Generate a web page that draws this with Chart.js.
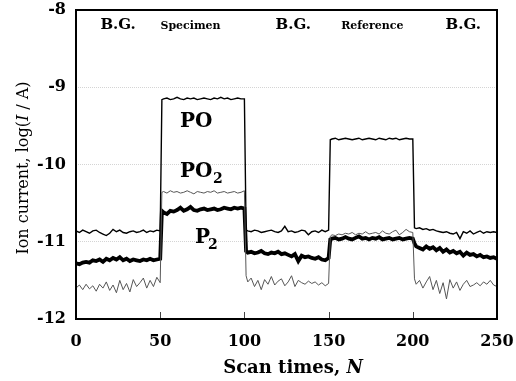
<!DOCTYPE html>
<html>
<head>
<meta charset="utf-8">
<script src="https://cdn.jsdelivr.net/npm/chart.js@4"></script>
<style>
  body { margin: 0; background: #fff; }
  #wrap { width: 516px; height: 381px; }
</style>
</head>
<body>
<div id="wrap"><canvas id="chart"></canvas></div>
<script>
// scan numbers (extra odd points at the step edges)
const scans = [0,2,4,6,8,10,12,14,16,18,20,22,24,26,28,30,32,34,36,38,40,42,44,46,48,50,
  51,52,54,56,58,60,62,64,66,68,70,72,74,76,78,80,82,84,86,88,90,92,94,96,98,100,
  101,102,104,106,108,110,112,114,116,118,120,122,124,126,128,130,132,134,136,138,140,142,144,146,148,150,
  151,152,154,156,158,160,162,164,166,168,170,172,174,176,178,180,182,184,186,188,190,192,194,196,198,200,
  201,202,204,206,208,210,212,214,216,218,220,222,224,226,228,230,232,234,236,238,240,242,244,246,248,250];

const po = [-10.86,-10.88,-10.85,-10.87,-10.89,-10.86,-10.85,-10.88,-10.90,-10.92,-10.89,-10.84,-10.87,-10.85,-10.88,-10.89,-10.87,-10.86,-10.88,-10.87,-10.85,-10.88,-10.86,-10.87,-10.85,-10.86,
  -9.16,-9.15,-9.14,-9.16,-9.15,-9.13,-9.15,-9.16,-9.14,-9.15,-9.14,-9.16,-9.15,-9.14,-9.15,-9.16,-9.14,-9.15,-9.13,-9.15,-9.14,-9.16,-9.15,-9.14,-9.15,-9.15,
  -10.85,-10.86,-10.87,-10.85,-10.86,-10.88,-10.87,-10.86,-10.85,-10.87,-10.88,-10.86,-10.80,-10.87,-10.86,-10.88,-10.87,-10.85,-10.86,-10.91,-10.87,-10.86,-10.88,-10.85,-10.87,-10.85,
  -9.68,-9.67,-9.66,-9.68,-9.67,-9.66,-9.67,-9.68,-9.67,-9.66,-9.68,-9.67,-9.66,-9.67,-9.68,-9.66,-9.67,-9.68,-9.66,-9.67,-9.66,-9.68,-9.67,-9.66,-9.67,-9.67,
  -10.82,-10.83,-10.82,-10.84,-10.83,-10.85,-10.84,-10.86,-10.87,-10.88,-10.87,-10.89,-10.90,-10.88,-10.96,-10.87,-10.89,-10.86,-10.90,-10.88,-10.86,-10.89,-10.87,-10.88,-10.87,-10.88];

const po2 = [-11.60,-11.56,-11.62,-11.55,-11.61,-11.57,-11.64,-11.55,-11.60,-11.52,-11.63,-11.56,-11.66,-11.50,-11.62,-11.54,-11.65,-11.49,-11.58,-11.53,-11.47,-11.60,-11.50,-11.58,-11.46,-11.53,
  -10.36,-10.35,-10.37,-10.34,-10.36,-10.35,-10.37,-10.36,-10.34,-10.36,-10.38,-10.35,-10.36,-10.37,-10.35,-10.36,-10.34,-10.37,-10.36,-10.35,-10.37,-10.36,-10.35,-10.37,-10.36,-10.34,
  -11.44,-11.52,-11.47,-11.58,-11.50,-11.62,-11.49,-11.55,-11.45,-11.56,-11.51,-11.48,-11.57,-11.52,-11.44,-11.58,-11.50,-11.53,-11.55,-11.51,-11.54,-11.52,-11.56,-11.53,-11.57,-11.54,
  -10.93,-10.91,-10.92,-10.90,-10.91,-10.89,-10.90,-10.88,-10.91,-10.89,-10.90,-10.87,-10.90,-10.89,-10.88,-10.90,-10.86,-10.89,-10.90,-10.87,-10.85,-10.91,-10.88,-10.84,-10.87,-10.88,
  -11.48,-11.55,-11.50,-11.60,-11.52,-11.45,-11.62,-11.50,-11.67,-11.53,-11.74,-11.49,-11.60,-11.52,-11.63,-11.55,-11.50,-11.58,-11.56,-11.53,-11.57,-11.52,-11.55,-11.50,-11.56,-11.58];

const p2 = [-11.28,-11.29,-11.27,-11.26,-11.27,-11.24,-11.25,-11.23,-11.26,-11.22,-11.24,-11.21,-11.23,-11.20,-11.24,-11.22,-11.25,-11.23,-11.24,-11.25,-11.23,-11.24,-11.22,-11.24,-11.23,-11.22,
  -10.60,-10.62,-10.64,-10.60,-10.61,-10.59,-10.56,-10.60,-10.58,-10.55,-10.59,-10.60,-10.58,-10.57,-10.59,-10.58,-10.57,-10.59,-10.58,-10.56,-10.57,-10.58,-10.56,-10.57,-10.56,-10.57,
  -11.12,-11.14,-11.13,-11.15,-11.14,-11.12,-11.15,-11.16,-11.14,-11.15,-11.13,-11.16,-11.15,-11.17,-11.19,-11.16,-11.25,-11.18,-11.20,-11.19,-11.21,-11.22,-11.20,-11.23,-11.24,-11.21,
  -10.97,-10.96,-10.95,-10.97,-10.96,-10.94,-10.96,-10.97,-10.95,-10.93,-10.96,-10.95,-10.97,-10.95,-10.96,-10.94,-10.97,-10.96,-10.95,-10.97,-10.96,-10.95,-10.97,-10.96,-10.95,-10.96,
  -11.02,-11.06,-11.08,-11.10,-11.06,-11.09,-11.07,-11.11,-11.08,-11.13,-11.10,-11.14,-11.12,-11.15,-11.13,-11.18,-11.14,-11.17,-11.16,-11.19,-11.17,-11.20,-11.19,-11.21,-11.20,-11.22];

const xTicks = [0, 50, 100, 150, 200, 250];
const regions = [
  {text: 'B.G.', x: 25, size: 15},
  {text: 'Specimen', x: 68, size: 11},
  {text: 'B.G.', x: 129, size: 15},
  {text: 'Reference', x: 176, size: 11},
  {text: 'B.G.', x: 230, size: 15},
];

const SERIF = '"DejaVu Serif", serif';
const pts = ys => ys.map((y, i) => ({x: scans[i], y: y}));

const decor = {
  id: 'decor',
  afterDraw(chart) {
    const ctx = chart.ctx;
    const a = chart.chartArea;
    const xs = chart.scales.x;
    ctx.save();
    // inner tick marks on x axis
    ctx.strokeStyle = '#444';
    ctx.lineWidth = 1;
    [50, 100, 150, 200].forEach(v => {
      const px = Math.round(xs.getPixelForValue(v)) + 0.5;
      ctx.beginPath(); ctx.moveTo(px, a.bottom); ctx.lineTo(px, a.bottom - 7); ctx.stroke();
    });
    // frame
    ctx.strokeStyle = '#000';
    ctx.lineWidth = 2;
    ctx.strokeRect(a.left, a.top, a.right - a.left, a.bottom - a.top);

    ctx.fillStyle = '#000';
    ctx.textBaseline = 'alphabetic';
    // region labels
    ctx.textAlign = 'center';
    regions.forEach(r => {
      ctx.font = 'bold ' + r.size + 'px ' + SERIF;
      ctx.fillText(r.text, xs.getPixelForValue(r.x), 29);
    });
    // series labels
    ctx.textAlign = 'left';
    ctx.font = 'bold 20px ' + SERIF;
    ctx.fillText('PO', 180, 127);
    ctx.fillText('PO', 180, 177);
    ctx.fillText('P', 195, 243);
    ctx.font = 'bold 14px ' + SERIF;
    ctx.fillText('2', 213, 183);
    ctx.fillText('2', 208, 249);

    // x axis title with italic N
    const t1 = 'Scan times, ';
    ctx.font = 'bold 18px ' + SERIF;
    const w1 = ctx.measureText(t1).width;
    ctx.font = 'bold italic 18px ' + SERIF;
    const w2 = ctx.measureText('N').width;
    const sx = 293 - (w1 + w2) / 2;
    ctx.font = 'bold 18px ' + SERIF;
    ctx.fillText(t1, sx, 373);
    ctx.font = 'bold italic 18px ' + SERIF;
    ctx.fillText('N', sx + w1, 373);

    // y axis title, rotated
    ctx.translate(28, 168);
    ctx.rotate(-Math.PI / 2);
    const parts = [['Ion current, log(', ''], ['I', 'italic '], [' / A)', '']];
    let total = 0;
    parts.forEach(p => { ctx.font = p[1] + '16px ' + SERIF; total += ctx.measureText(p[0]).width; });
    let cx = -total / 2;
    parts.forEach(p => {
      ctx.font = p[1] + '16px ' + SERIF;
      ctx.fillText(p[0], cx, 0);
      cx += ctx.measureText(p[0]).width;
    });
    ctx.restore();
  }
};

new Chart(document.getElementById('chart'), {
  type: 'line',
  data: {
    datasets: [
      {label: 'PO2', data: pts(po2), borderColor: '#555', borderWidth: 1},
      {label: 'PO', data: pts(po), borderColor: '#000', borderWidth: 1.4},
      {label: 'P2', data: pts(p2), borderColor: '#000', borderWidth: 3.8},
    ],
  },
  options: {
    responsive: true,
    maintainAspectRatio: false,
    animation: false,
    layout: {padding: {left: 0, right: 19, top: 10, bottom: 0}},
    elements: {point: {radius: 0}, line: {tension: 0}},
    plugins: {legend: {display: false}, tooltip: {enabled: false}},
    scales: {
      x: {
        type: 'linear',
        min: 0, max: 250,
        afterBuildTicks: s => { s.ticks = xTicks.map(v => ({value: v})); },
        afterFit: s => { s.height = 62; s.paddingLeft = 0; s.paddingRight = 0; },
        grid: {display: false, drawTicks: false},
        border: {display: false},
        ticks: {
          color: '#000', padding: 13,
          font: {family: SERIF, size: 16, weight: 'bold'},
          maxRotation: 0,
        },
      },
      y: {
        min: -12, max: -8,
        afterFit: s => { s.width = 76; s.paddingTop = 0; s.paddingBottom = 0; },
        grid: {
          drawTicks: false,
          color: c => (c.tick.value === -8 || c.tick.value === -12) ? 'rgba(0,0,0,0)' : '#d4d4d4',
          lineWidth: 1,
        },
        border: {display: false, dash: [1, 1]},
        ticks: {
          stepSize: 1, color: '#000', padding: 10,
          font: {family: SERIF, size: 16, weight: 'bold'},
        },
      },
    },
  },
  plugins: [decor],
});
</script>
</body>
</html>
